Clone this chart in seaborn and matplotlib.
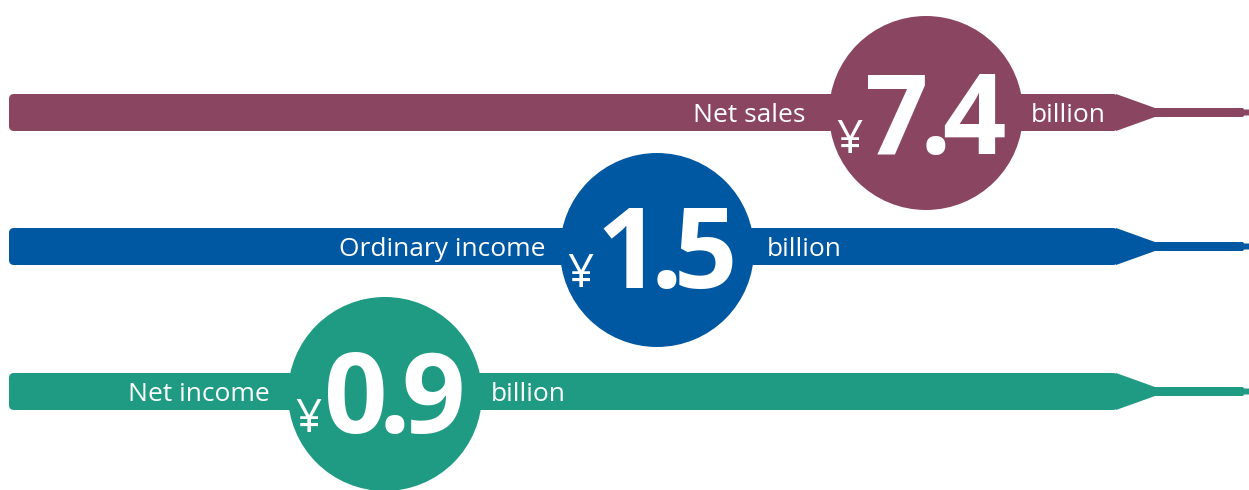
import matplotlib
matplotlib.use("Agg")
import matplotlib.pyplot as plt
from matplotlib.patches import FancyBboxPatch, Polygon
import seaborn as sns
import pandas as pd

# Figures for the year, in billions of yen
metrics = ["Net sales", "Ordinary income", "Net income"]
values = [7.4, 1.5, 0.9]
value_labels = ["7.4", "1.5", "0.9"]
unit_label = "billion"
currency = "¥"
colors = ["#8A4661", "#0057A2", "#1F9B83"]

# Layout (pixel space of a 1249x490 canvas)
W, H = 1249, 490
band_y = [112.5, 246.5, 391.5]
badge_x = [926, 657, 385]
badge_y = [113, 250, 394]
badge_r = 97
band_left, band_right = 9, 1116
band_half = 18.5
name_gap = [24, 14, 18]
unit_gap = [8, 13, 9]

sns.set_theme(style="white")
plt.rcParams["font.family"] = ["Open Sans", "DejaVu Sans"]

fig = plt.figure(figsize=(W / 100, H / 100), dpi=100)
ax = fig.add_axes([0, 0, 1, 1])

# Bands with a tapered tail
for c, col in zip(band_y, colors):
    body = FancyBboxPatch((band_left, c - band_half), band_right + 2 - band_left, 2 * band_half,
                          boxstyle="round,pad=0,rounding_size=5", fc=col, ec="none", zorder=1)
    ax.add_patch(body)
    tail = [(band_right, c - band_half), (1155, c - 4.5), (1243, c - 4.5), (1244, c - 3),
            (1249, c - 3), (1249, c + 3), (1244, c + 3), (1243, c + 4.5),
            (1155, c + 4.5), (band_right, c + band_half)]
    ax.add_patch(Polygon(tail, closed=True, fc=col, ec="none", zorder=1))

# Round badges drawn as scatter markers (diameter in points)
diam_pt = 2 * badge_r * 72 / 100
badges = pd.DataFrame({"x": badge_x, "y": badge_y, "metric": metrics})
sns.scatterplot(data=badges, x="x", y="y", hue="metric", palette=colors, s=diam_pt ** 2,
                marker="o", linewidth=0, legend=False, ax=ax, zorder=2)
ax.set_xlim(0, W)
ax.set_ylim(H, 0)
ax.set_axis_off()

fig.canvas.draw()
renderer = fig.canvas.get_renderer()


def tracked(s, x_right, y, tracking, **kw):
    """Draw s with tight letter spacing, right edge at x_right; returns left edge."""
    items = [ax.text(0, y, ch, ha="left", va="baseline", **kw) for ch in s]
    widths = [t.get_window_extent(renderer).width for t in items]
    total = sum(widths) + tracking * (len(s) - 1)
    x = x_right - total
    left = x
    for t, w in zip(items, widths):
        t.set_x(x)
        x += w + tracking
    return left


for i, (name, lab) in enumerate(zip(metrics, value_labels)):
    cx, c = badge_x[i], band_y[i]
    base = c + 41
    left = tracked(lab, cx + 80, base, -9, color="white", fontsize=80,
                   fontweight="bold", zorder=3)
    ax.text(left - 3, base - 1, currency, ha="right", va="baseline", color="white",
            fontsize=33, zorder=3)
    ax.text(cx - badge_r - name_gap[i], c + 9.5, name, ha="right", va="baseline",
            color="white", fontsize=19, zorder=3)
    ax.text(cx + badge_r + unit_gap[i], c + 9.5, unit_label, ha="left", va="baseline",
            color="white", fontsize=19, zorder=3)

fig.savefig("out.png", dpi=100, facecolor="white")
